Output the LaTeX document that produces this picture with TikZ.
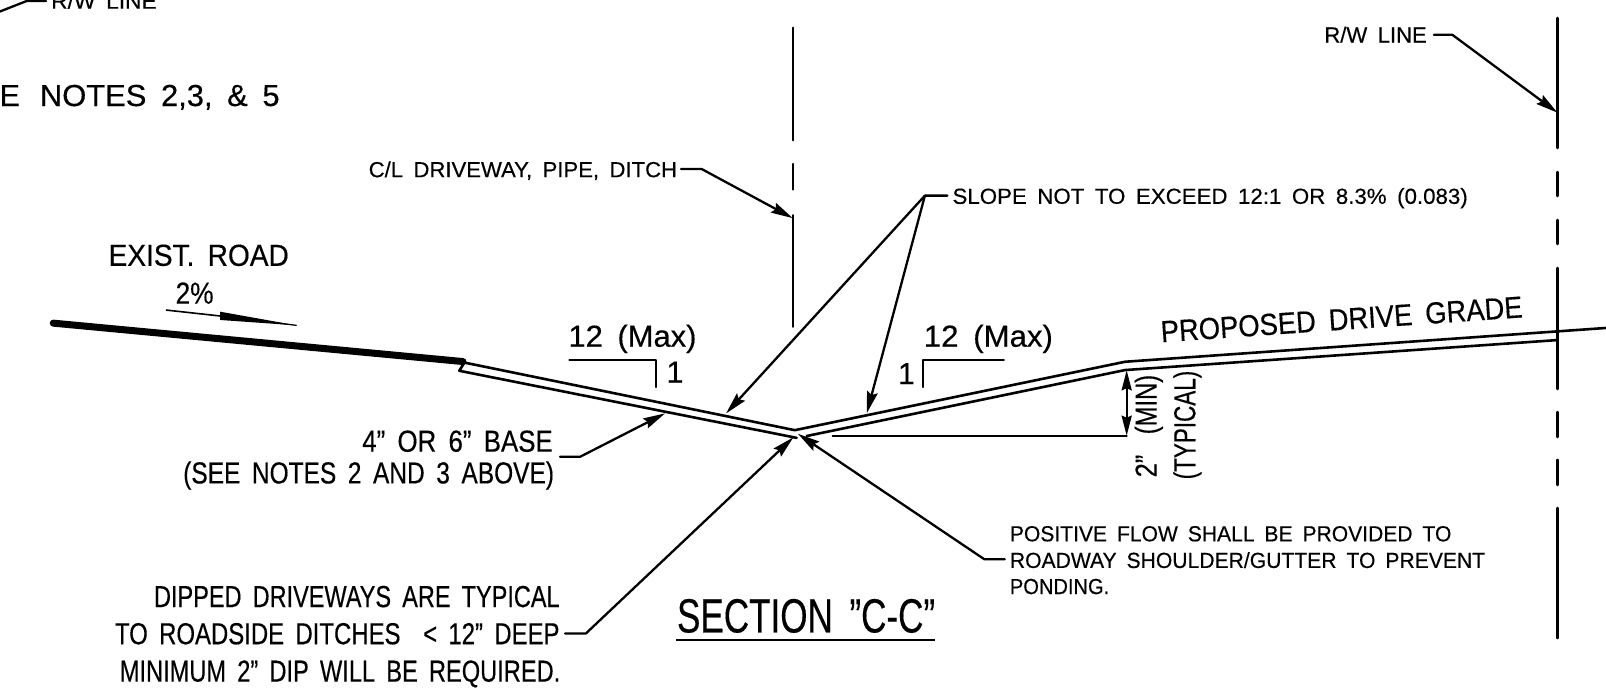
\documentclass[tikz,border=0pt]{standalone}
\usepackage{fontspec}
\usepackage{graphicx}
\usetikzlibrary{arrows.meta}
\setmainfont[WordSpace=1.7,FakeBold=0.35]{Liberation Sans}
\newdimen\pxu \pxu=0.5121pt
\newcommand{\fw}[2]{\resizebox{#1\pxu}{\height}{#2}}
\tikzset{
  x=0.5121pt,y=-0.5121pt,
  lbl/.style={inner sep=0pt,outer sep=0pt,text=black},
  sm/.style={lbl,font=\fontsize{10.9}{12}\selectfont},
  med/.style={lbl,font=\fontsize{15.2}{18}\selectfont},
  big/.style={lbl,font=\fontsize{24}{28}\selectfont},
  ln/.style={draw=black,line width=1.3pt,line cap=round,line join=round},
  lead/.style={ln,line width=1.15pt,-{Stealth[length=11pt,width=5.4pt,inset=1.5pt]}},
  plain/.style={ln,line width=1.15pt},
}
\begin{document}
\begin{tikzpicture}
\clip (0,0) rectangle (1568,673.7);
\fill[white] (0,0) rectangle (1568,673.7);
% coordinates
\coordinate (cl1a) at (774,27); \coordinate (cl1b) at (774,137);
\coordinate (cl2a) at (774,160); \coordinate (cl2b) at (774,185);
\coordinate (cl3a) at (774,210); \coordinate (cl3b) at (774,319);
\coordinate (clk) at (685,165); \coordinate (cls) at (665,165); \coordinate (clt) at (774,213);
\coordinate (slk) at (903,191); \coordinate (sls) at (925,191);
\coordinate (slta) at (708.9,403.6); \coordinate (sltb) at (846.2,403.6);
\coordinate (rws) at (1400,34); \coordinate (rwk) at (1418,34); \coordinate (rwt) at (1520.6,110);
\coordinate (bas) at (546.8,446); \coordinate (bak) at (566.3,446); \coordinate (bat) at (649.3,403.6);
\coordinate (dis) at (551.7,618.5); \coordinate (dik) at (572,618.5); \coordinate (dit) at (774.6,427);
\coordinate (pos) at (981,546); \coordinate (pok) at (961,546); \coordinate (pot) at (779,423.5);
\coordinate (tls) at (-2,12); \coordinate (tlk) at (26,1); \coordinate (tle) at (45,1);
% road and base
\coordinate (r1) at (52,315.5); \coordinate (r2) at (452,353);
\coordinate (bt) at (453.4,354); \coordinate (bl) at (448.4,362);
\coordinate (bv) at (776,420); \coordinate (bw) at (777.8,427.5);
\coordinate (pt) at (1098.4,353.2); \coordinate (pb) at (1098.4,361.3);
\coordinate (pc) at (787.6,425.7);
\coordinate (pe) at (1568,320.2); \coordinate (pf) at (1521,332);
\coordinate (hz1) at (813,425.4); \coordinate (hz2) at (1100,425.4);
\coordinate (dm1) at (1100,361.5);
\draw[black,line width=3.5pt,line cap=round] (r1) -- (r2);
\draw[ln] (bt) -- (bv) -- (pt) -- (pe);
\draw[ln] (bt) -- (bl) -- (bw);
\draw[ln] (pc) -- (pb) -- (pf);
\draw[plain] (hz1) -- (hz2);
\draw[plain,{Stealth[length=10pt,width=5pt,inset=1pt]}-{Stealth[length=10pt,width=5pt,inset=1pt]}] (dm1) -- (hz2);
% centre line
\draw[ln,line width=1.1pt] (cl1a) -- (cl1b) (cl2a) -- (cl2b) (cl3a) -- (cl3b);
% R/W line
\coordinate (w1) at (1520.6,17.6); \coordinate (w2) at (1520.6,144.5);
\coordinate (w3) at (1520.6,168); \coordinate (w4) at (1520.6,191.4);
\coordinate (w5) at (1520.6,214.8); \coordinate (w6) at (1520.6,238.2);
\coordinate (w7) at (1520.6,261.7); \coordinate (w8) at (1520.6,379.8);
\coordinate (w9) at (1520.6,402.3); \coordinate (w10) at (1520.6,426.7);
\coordinate (w11) at (1520.6,449); \coordinate (w12) at (1520.6,473.5);
\coordinate (w13) at (1520.6,496); \coordinate (w14) at (1520.6,623);
\draw[ln] (w1)--(w2) (w3)--(w4) (w5)--(w6) (w7)--(w8) (w9)--(w10) (w11)--(w12) (w13)--(w14);
% leaders
\draw[plain] (tls) -- (tlk) -- (tle);
\draw[lead] (cls) -- (clk) -- (clt);
\draw[lead] (sls) -- (slk) -- (slta);
\draw[lead] (slk) -- (sltb);
\draw[lead] (rws) -- (rwk) -- (rwt);
\draw[lead] (bas) -- (bak) -- (bat);
\draw[lead] (dis) -- (dik) -- (dit);
\draw[lead] (pos) -- (pok) -- (pot);
% slope triangles
\coordinate (sa1) at (556,351); \coordinate (sa2) at (640,351); \coordinate (sa3) at (640,378);
\coordinate (sb1) at (980,351); \coordinate (sb2) at (901,351); \coordinate (sb3) at (901,378);
\draw[plain,line width=1pt] (sa1) -- (sa2) -- (sa3);
\draw[plain,line width=1pt] (sb1) -- (sb2) -- (sb3);
% exist road slope arrow
\coordinate (ea) at (162,302.7); \coordinate (eb) at (214.8,308.5);
\coordinate (ec) at (214.8,304.3); \coordinate (ed) at (214.8,312.4); \coordinate (ee) at (289.7,317.7);
\draw[black,line width=0.8pt] (ea) -- (eb);
\fill[black] (ec) -- (ee) -- (ed) -- cycle;
\draw[black,line width=0.6pt] (eb) -- (ee);
% section underline
\coordinate (su1) at (660,625); \coordinate (su2) at (913,625);
\draw[black,line width=1.3pt] (su1) -- (su2);
% texts
\node[sm,anchor=base west] (t1) at (50,8.5) {\fw{103}{R/W LINE}};
\node[med,anchor=base east] (t2) at (273,103.5) {SEE\hspace{10pt}\fw{234}{NOTES 2,3, \& 5}};
\node[sm,anchor=base west] (t3) at (360,173) {\fw{301}{C/L DRIVEWAY, PIPE, DITCH}};
\node[sm,anchor=base west] (t4) at (930,199) {\fw{503}{SLOPE NOT TO EXCEED 12:1 OR 8.3\% (0.083)}};
\node[sm,anchor=base west] (t5) at (1293,41.5) {\fw{100}{R/W LINE}};
\node[med,anchor=base west] (t6) at (106,259.5) {\fw{176}{EXIST. ROAD}};
\node[med,anchor=base west] (t7) at (171.5,296.5) {\fw{37}{2\%}};
\node[med,anchor=base west] (t8) at (555,338.5) {\fw{125}{12 (Max)}};
\node[med,anchor=base west] (t9) at (902,338.5) {\fw{126}{12 (Max)}};
\node[med,anchor=base] (t10) at (659,373.5) {1};
\node[med,anchor=base] (t11) at (885,375) {1};
\node[med,anchor=base west,rotate=3.95] (t12) at (1134,334.2) {\fw{354}{PROPOSED DRIVE GRADE}};
\node[med,anchor=base west,rotate=90] (t13) at (1129.3,466) {\fw{22}{2”}};
\node[med,anchor=base west,rotate=90] (t14) at (1129.3,424) {\fw{58}{(MIN)}};
\node[med,anchor=base west,rotate=90] (t15) at (1167,468) {\fw{106}{(TYPICAL)}};
\node[med,anchor=base west] (t16) at (353.7,441) {\fw{186}{4” OR 6” BASE}};
\node[med,anchor=base west] (t17) at (178.9,472) {\fw{362}{(SEE NOTES 2 AND 3 ABOVE)}};
\node[med,anchor=base west] (t18) at (150.4,592.7) {\fw{396}{DIPPED DRIVEWAYS ARE TYPICAL}};
\node[med,anchor=base west] (t19) at (112.3,629) {\fw{434}{TO ROADSIDE DITCHES \ < 12” DEEP}};
\node[med,anchor=base west] (t20) at (117,665.5) {\fw{430}{MINIMUM 2” DIP WILL BE REQUIRED.}};
\node[sm,anchor=base west] (t21) at (986,528.5) {\fw{431}{POSITIVE FLOW SHALL BE PROVIDED TO}};
\node[sm,anchor=base west] (t22) at (986,554.5) {\fw{464}{ROADWAY SHOULDER/GUTTER TO PREVENT}};
\node[sm,anchor=base west] (t23) at (986,580) {\fw{97}{PONDING.}};
\node[big,anchor=base west] (t24) at (661,617.5) {\fw{252}{SECTION "C-C"}};
\end{tikzpicture}
\end{document}
